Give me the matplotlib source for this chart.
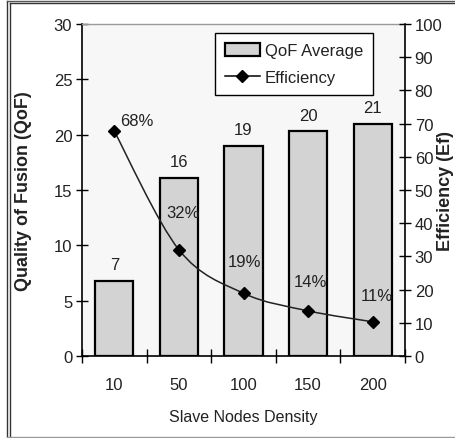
import matplotlib
matplotlib.use("Agg")
import matplotlib.pyplot as plt
from matplotlib.path import Path
from matplotlib.patches import PathPatch, Patch
from matplotlib.lines import Line2D
import numpy as np

categories = ["10", "50", "100", "150", "200"]
qof = [6.8, 16.1, 19.0, 20.3, 21.0]
qof_labels = ["7", "16", "19", "20", "21"]
eff = [67.7, 32.0, 18.9, 13.6, 10.3]
eff_labels = ["68%", "32%", "19%", "14%", "11%"]

plt.rcParams['font.family'] = ['Liberation Sans', 'DejaVu Sans']
TXT = "#222222"
FS = 12

W, H = 455, 439
fig = plt.figure(figsize=(W / 100, H / 100), dpi=100)
fig.patch.set_facecolor("white")

ax = fig.add_axes([82 / W, 1 - 357 / H, (405 - 82) / W, (357 - 25) / H])
ax.set_facecolor("#f7f7f7")
x = np.arange(len(categories))
ax.bar(x, qof, width=0.59, color="#d3d3d3", edgecolor="black", linewidth=1.6, zorder=2)
ax.set_xlim(-0.5, len(categories) - 0.5)
ax.set_ylim(0, 30)
ax.set_yticks(np.arange(0, 31, 5))
ax.set_xticks(np.arange(-0.5, len(categories), 1.0))
ax.set_xticklabels([])
ax.set_xticks(x, minor=True)
ax.set_xticklabels(categories, minor=True)
ax.tick_params(axis="x", which="major", direction="inout", length=10, width=1, color="black")
ax.tick_params(axis="x", which="minor", length=0, pad=15, labelsize=FS, labelcolor=TXT)
ax.tick_params(axis="y", direction="inout", length=8, width=1, labelsize=FS, labelcolor=TXT, pad=3)
for s in ["left", "bottom", "right"]:
    ax.spines[s].set_color("black")
    ax.spines[s].set_linewidth(1.2)
ax.spines["top"].set_color("#9a9a9a")
ax.spines["top"].set_linewidth(1.0)

for xi, v, lab in zip(x, qof, qof_labels):
    ax.annotate(lab, (xi, v), xytext=(0, 6), textcoords="offset points",
                ha="center", va="bottom", fontsize=FS, color=TXT)

ax.set_xlabel("Slave Nodes Density", fontsize=11.5, color=TXT)
ax.xaxis.set_label_coords(0.5, -(418 - 357) / (357 - 25))
ax.xaxis.label.set_va("center")
ax.set_ylabel("Quality of Fusion (QoF)", fontsize=13, fontweight="bold", color=TXT)
ax.yaxis.set_label_coords(-(82 - 24) / (405 - 82), 0.5)
ax.yaxis.label.set_va("center")

ax2 = ax.twinx()
ax2.set_ylim(0, 100)
ax2.set_yticks(np.arange(0, 101, 10))
ax2.tick_params(axis="y", direction="inout", length=8, width=1, labelsize=FS, labelcolor=TXT, pad=3)
for s in ax2.spines.values():
    s.set_visible(False)
ax2.set_ylabel("Efficiency (Ef)", fontsize=13, fontweight="bold", color=TXT)
ax2.yaxis.set_label_coords(1 + (445 - 405) / (405 - 82), 0.5)
ax2.yaxis.label.set_va("center")

# smooth (Catmull-Rom) line through the efficiency points
pts = np.column_stack([x, eff]).astype(float)
ext = np.vstack([pts[0], pts, pts[-1]])
verts = [tuple(pts[0])]
codes = [Path.MOVETO]
for i in range(1, len(ext) - 2):
    p0, p1, p2, p3 = ext[i - 1], ext[i], ext[i + 1], ext[i + 2]
    c1 = p1 + (p2 - p0) / 6.0
    c2 = p2 - (p3 - p1) / 6.0
    verts += [tuple(c1), tuple(c2), tuple(p2)]
    codes += [Path.CURVE4] * 3
ax2.add_patch(PathPatch(Path(verts, codes), facecolor="none", edgecolor="#222222", linewidth=1.1, zorder=3))
ax2.plot(x, eff, linestyle="none", marker="D", markersize=6.5, color="black", zorder=4)

offsets = [(16, 8), (3, 27), (1, 23), (2, 21), (3, 19)]
for xi, v, lab, off in zip(x, eff, eff_labels, offsets):
    ax2.annotate(lab, (xi, v), xytext=off, textcoords="offset points",
                 ha="center", va="center", fontsize=FS, color=TXT)

handles = [Patch(facecolor="#d3d3d3", edgecolor="black", linewidth=1.6),
           Line2D([], [], color="black", marker="D", markersize=6.5, linewidth=1.1)]
leg = ax2.legend(handles, ["QoF Average", "Efficiency"], loc="upper right",
                 bbox_to_anchor=((373 - 82) / (405 - 82), (357 - 34) / (357 - 25)),
                 frameon=True, fancybox=False, fontsize=FS, handlelength=2.1, handleheight=0.8,
                 borderpad=0.6, labelspacing=0.7, handletextpad=0.3, borderaxespad=0)
leg.get_frame().set_edgecolor("black")
leg.get_frame().set_linewidth(1.0)
leg.get_frame().set_facecolor("white")
leg.get_frame().set_alpha(1)
for t in leg.get_texts():
    t.set_color(TXT)

# outer frame
def fline(xs, ys, c, lw):
    fig.add_artist(Line2D([v / W for v in xs], [1 - v / H for v in ys], color=c, linewidth=lw,
                          transform=fig.transFigure))
fline([7.3, 7.3], [1.5, 437.5], "#333333", 1.0)
fline([10.3, 10.3], [4.3, 437.5], "#333333", 1.0)
fline([7.3, W], [1.5, 1.5], "#555555", 1.0)
fline([10.3, W], [4.3, 4.3], "#333333", 1.0)
fline([7.3, W], [437.5, 437.5], "#9a9a9a", 1.0)

fig.savefig("out.png", dpi=100)
